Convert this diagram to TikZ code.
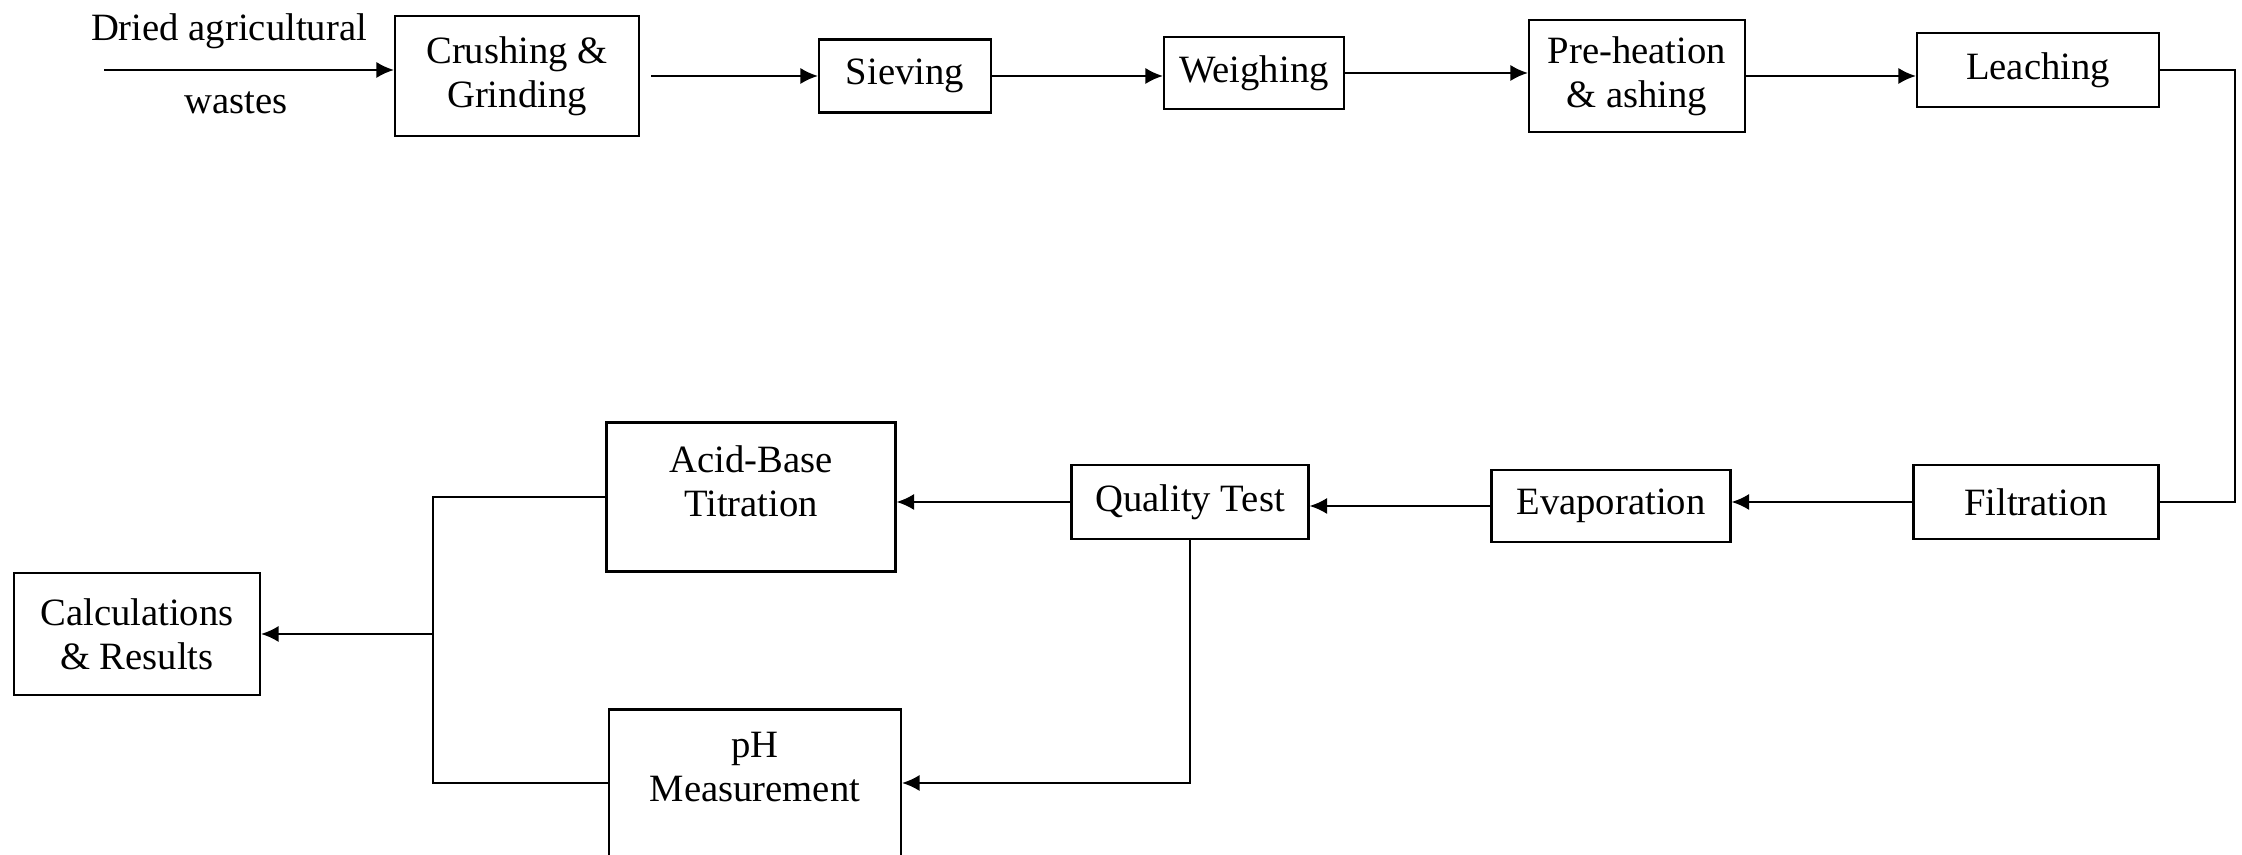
\documentclass[tikz,border=0pt]{standalone}
\usepackage{fontspec}
\setmainfont{Liberation Serif}
\usetikzlibrary{arrows,arrows.meta}
\tikzstyle{pbox}=[rectangle,draw=black!100,line width=0.6pt,inner sep=0pt,align=center,font=\fontsize{11}{12.6}\selectfont]
\tikzstyle{tall}=[text depth=0.32cm]
\tikzstyle{ptext}=[inner sep=0pt,font=\fontsize{11}{12.6}\selectfont]
\tikzstyle{flow}=[-{Latex[length=5pt,width=4.6pt]}, line width=0.6pt]

\begin{document}
\begin{tikzpicture}[flow]
\useasboundingbox (0,0) rectangle (22.42,8.55);
\node[ptext] (DA) at (2.29,8.24) {Dried agricultural};
\node[ptext] (WA) at (2.36,7.52) {wastes};
\coordinate (IN) at (1.04,7.85);
\node[pbox,minimum width=2.44cm,minimum height=1.20cm] (CG) at (5.17,7.79) {Crushing \&\\Grinding};
\node[pbox,minimum width=1.72cm,minimum height=0.73cm] (SV) at (9.05,7.79) {Sieving};
\node[pbox,minimum width=1.80cm,minimum height=0.72cm] (WG) at (12.54,7.82) {Weighing};
\node[pbox,minimum width=2.16cm,minimum height=1.12cm] (PA) at (16.37,7.79) {Pre-heation\\\& ashing};
\node[pbox,minimum width=2.42cm,minimum height=0.74cm] (LC) at (20.38,7.85) {Leaching};
\node[pbox,minimum width=2.45cm,minimum height=0.74cm] (FT) at (20.36,3.53) {Filtration};
\node[pbox,minimum width=2.39cm,minimum height=0.72cm] (EV) at (16.11,3.49) {Evaporation};
\node[pbox,minimum width=2.37cm,minimum height=0.74cm] (QT) at (11.90,3.53) {Quality Test};
\node[pbox,tall,minimum width=2.89cm,minimum height=1.49cm] (AB) at (7.51,3.58) {Acid-Base\\Titration};
\node[pbox,tall,minimum width=2.92cm,minimum height=1.47cm] (PH) at (7.55,0.72) {pH\\Measurement};
\node[pbox,minimum width=2.46cm,minimum height=1.22cm] (CR) at (1.37,2.21) {Calculations\\\& Results};
\coordinate (RT) at (22.35,0);
\coordinate (JN) at (4.33,0);
\draw (IN) -- (IN -| CG.west);
\draw[shorten <=0.11cm] (CG.east) -- (CG.east -| SV.west);
\draw (SV.east) -- (SV.east -| WG.west);
\draw (WG.east) -- (WG.east -| PA.west);
\draw (PA.east) -- (PA.east -| LC.west);
\draw[-] (LC.east) -- (LC.east -| RT) -- (RT |- FT.east) -- (FT.east);
\draw (FT.west) -- (FT.west -| EV.east);
\draw (EV.west) -- (EV.west -| QT.east);
\draw (QT.west) -- (QT.west -| AB.east);
\draw (QT.south) |- (PH.east);
\draw[-] (AB.west) -- (AB.west -| JN) -- (JN |- PH.west) -- (PH.west);
\draw (CR.east -| JN) -- (CR.east);
\end{tikzpicture}
\end{document}
